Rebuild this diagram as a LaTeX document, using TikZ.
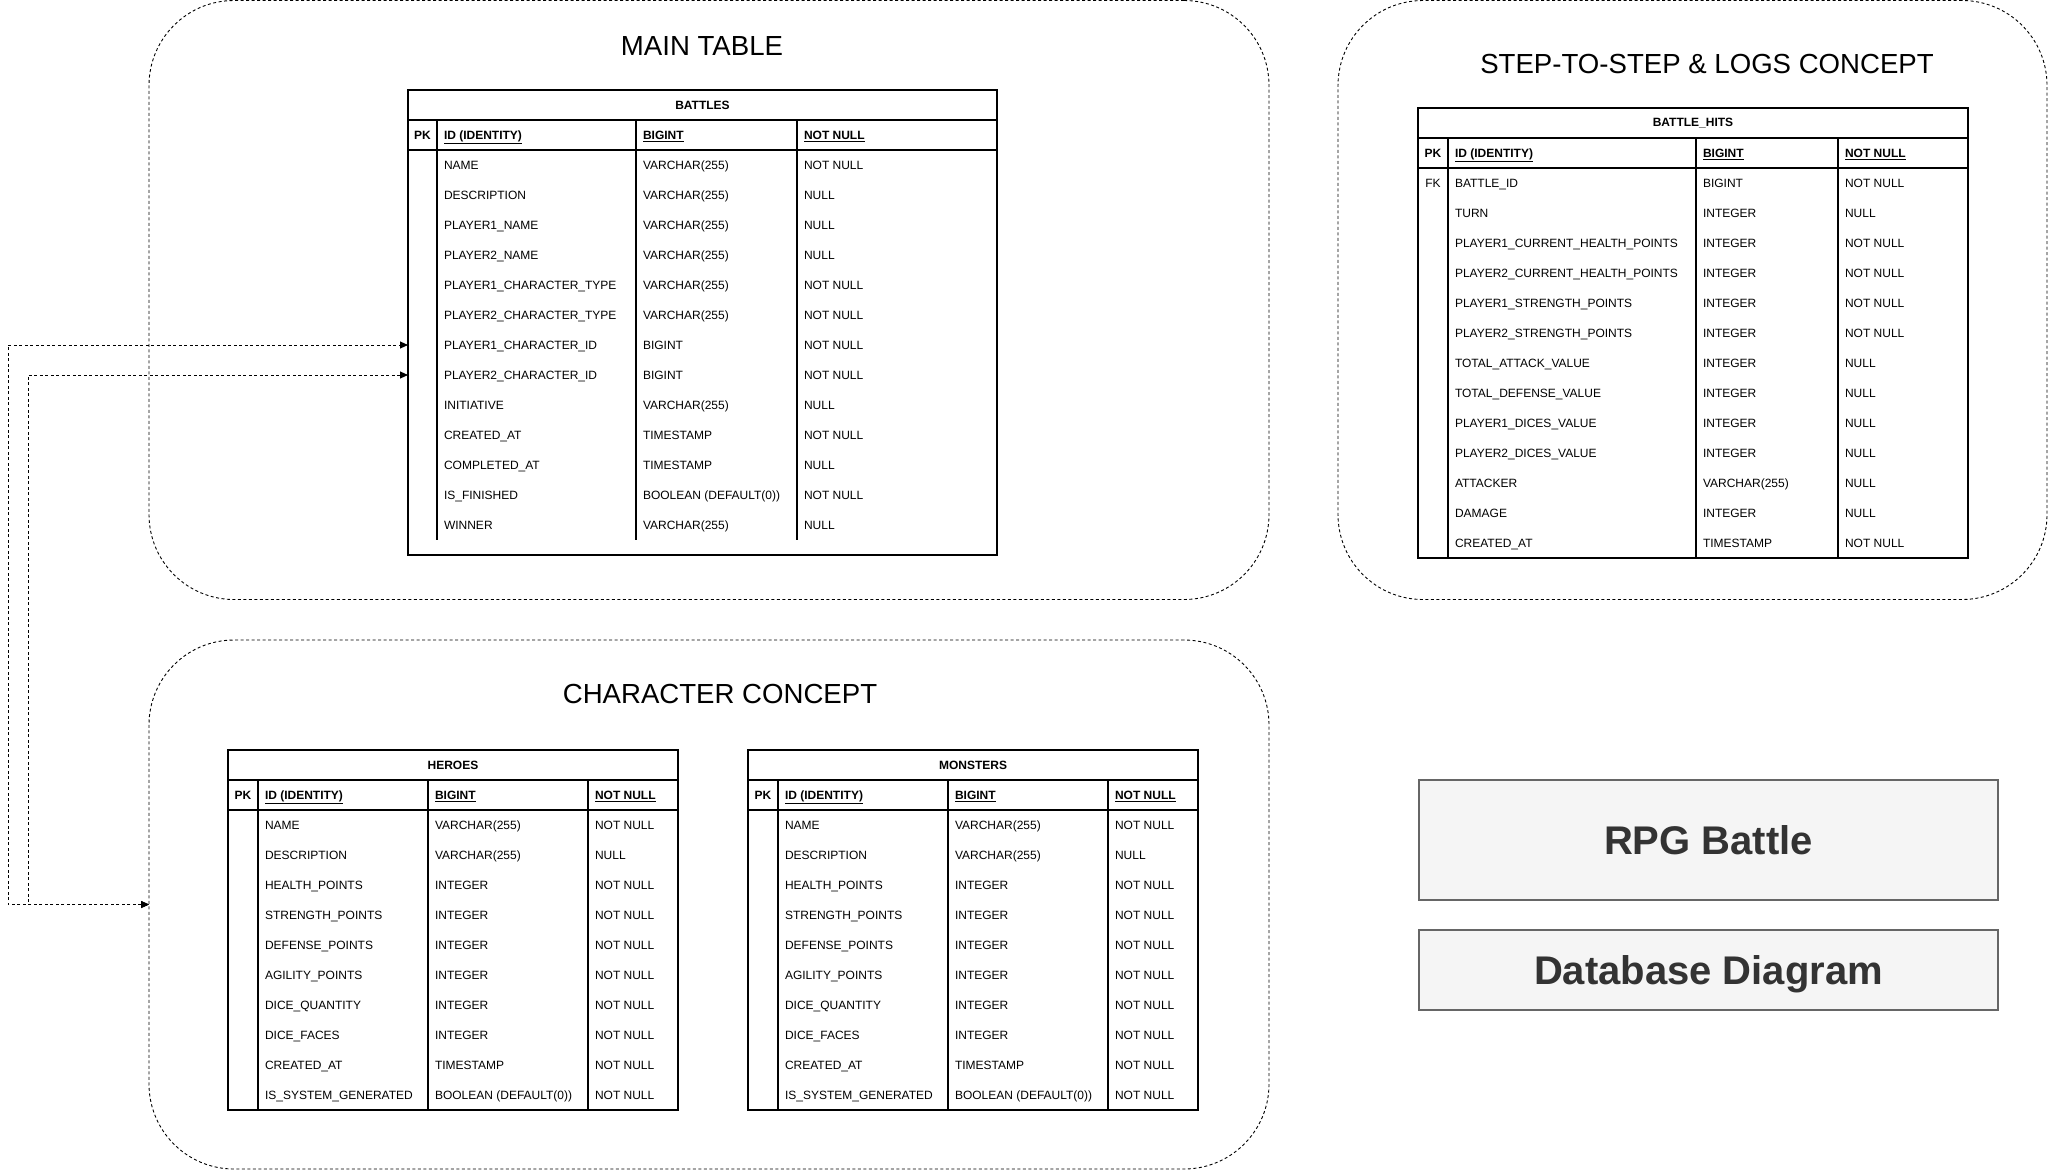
\documentclass[tikz,border=0pt]{standalone}
\usepackage{fontspec}
\setmainfont{Liberation Sans} %szerokości jak Arial
\usetikzlibrary{arrows.meta}
\tikzset{
	rowtext/.style={anchor=base west, font=\fontsize{12}{14}\selectfont}, %tekst w wierszu tabeli
	keytext/.style={anchor=base, font=\fontsize{12}{14}\selectfont\bfseries}, %kolumna PK/FK
}

\begin{document}
\begin{tikzpicture}[
			x=1pt, y=-1pt,
			every node/.style={inner sep=0pt, outer sep=0pt},
			group/.style={draw, line width=0.9pt, dash pattern=on 3pt off 2.5pt, rounded corners=85pt, anchor=north west},
			grouptitle/.style={font=\fontsize{27.6}{32}\selectfont},
			tbl/.style={draw, line width=1.1pt, anchor=north west},
			sep/.style={line width=1.1pt},
			headtext/.style={font=\fontsize{12}{14}\selectfont\bfseries},
			banner/.style={draw=black!60, fill=black!4, line width=1.1pt, anchor=north west, text=black!80, text height=29pt, text depth=0pt, font=\fontsize{40}{46}\selectfont\bfseries},
			link/.style={line width=0.9pt, dash pattern=on 3pt off 2.5pt, {Triangle[length=8pt,width=7pt]}-{Triangle[length=8pt,width=7pt]}}
			]
			\useasboundingbox (0,0) rectangle (2049,1171);
			
			\node[group, minimum width=1120pt, minimum height=599pt] (maingrp) at (149,0.5) {};
			\node[group, minimum width=709pt, minimum height=599pt] (hitsgrp) at (1338,0.5) {};
			\node[group, minimum width=1120pt, minimum height=529pt] (chargrp) at (149,640) {};
			\node[grouptitle] (maintitle) at (702,46) {MAIN TABLE};
			\node[grouptitle] (hitstitle) at (1707,64) {STEP-TO-STEP \& LOGS CONCEPT};
			\node[grouptitle] (chartitle) at (720,694) {CHARACTER CONCEPT};
			
			% BATTLES
			\node[tbl, minimum width=589pt, minimum height=465pt] (battles) at (408,90) {};
			\node[headtext] (battles-head) at (702.5,105) {BATTLES};
			\draw[sep] (408,120) -- (997,120);
			\draw[sep] (408,150) -- (997,150);
			\foreach \cx in {437,636,797} \draw[sep] (\cx,120) -- (\cx,540);
			\node[keytext] (battles-pk) at (422.5,139.3) {PK};
			\node[rowtext, font=\fontsize{12}{14}\selectfont\bfseries] (battles-id) at (444,139.3) {\underline{ID (IDENTITY)}};
			\node[rowtext, font=\fontsize{12}{14}\selectfont\bfseries] (battles-idt) at (643,139.3) {\underline{BIGINT}};
			\node[rowtext, font=\fontsize{12}{14}\selectfont\bfseries] (battles-idu) at (804,139.3) {\underline{NOT NULL}};
			\foreach \n/\t/\u [count=\i] in {NAME/VARCHAR(255)/NOT NULL, DESCRIPTION/VARCHAR(255)/NULL,
				PLAYER1\_NAME/VARCHAR(255)/NULL, PLAYER2\_NAME/VARCHAR(255)/NULL,
				PLAYER1\_CHARACTER\_TYPE/VARCHAR(255)/NOT NULL, PLAYER2\_CHARACTER\_TYPE/VARCHAR(255)/NOT NULL,
				PLAYER1\_CHARACTER\_ID/BIGINT/NOT NULL, PLAYER2\_CHARACTER\_ID/BIGINT/NOT NULL,
				INITIATIVE/VARCHAR(255)/NULL, CREATED\_AT/TIMESTAMP/NOT NULL, COMPLETED\_AT/TIMESTAMP/NULL,
				IS\_FINISHED/BOOLEAN (DEFAULT(0))/NOT NULL, WINNER/VARCHAR(255)/NULL} {
				\coordinate (battles-r\i) at (408,135+30*\i);
				\node[rowtext] (battles-\i) at (444,139.3+30*\i) {\n};
				\node[rowtext] (battles-t\i) at (643,139.3+30*\i) {\t};
				\node[rowtext] (battles-u\i) at (804,139.3+30*\i) {\u};
			}
			
			% BATTLE_HITS
			\node[tbl, minimum width=550pt, minimum height=450pt] (hits) at (1418,108) {};
			\node[headtext] (hits-head) at (1693,123) {BATTLE\_HITS};
			\draw[sep] (1418,138) -- (1968,138);
			\draw[sep] (1418,168) -- (1968,168);
			\foreach \cx in {1448,1696,1838} \draw[sep] (\cx,138) -- (\cx,558);
			\node[keytext] (hits-pk) at (1433,157.3) {PK};
			\node[rowtext, font=\fontsize{12}{14}\selectfont\bfseries] (hits-id) at (1455,157.3) {\underline{ID (IDENTITY)}};
			\node[rowtext, font=\fontsize{12}{14}\selectfont\bfseries] (hits-idt) at (1703,157.3) {\underline{BIGINT}};
			\node[rowtext, font=\fontsize{12}{14}\selectfont\bfseries] (hits-idu) at (1845,157.3) {\underline{NOT NULL}};
			\node[keytext, font=\fontsize{12}{14}\selectfont] (hits-fk) at (1433,187.3) {FK};
			\foreach \n/\t/\u [count=\i] in {BATTLE\_ID/BIGINT/NOT NULL, TURN/INTEGER/NULL,
				PLAYER1\_CURRENT\_HEALTH\_POINTS/INTEGER/NOT NULL, PLAYER2\_CURRENT\_HEALTH\_POINTS/INTEGER/NOT NULL,
				PLAYER1\_STRENGTH\_POINTS/INTEGER/NOT NULL, PLAYER2\_STRENGTH\_POINTS/INTEGER/NOT NULL,
				TOTAL\_ATTACK\_VALUE/INTEGER/NULL, TOTAL\_DEFENSE\_VALUE/INTEGER/NULL,
				PLAYER1\_DICES\_VALUE/INTEGER/NULL, PLAYER2\_DICES\_VALUE/INTEGER/NULL,
				ATTACKER/VARCHAR(255)/NULL, DAMAGE/INTEGER/NULL, CREATED\_AT/TIMESTAMP/NOT NULL} {
				\node[rowtext] (hits-\i) at (1455,157.3+30*\i) {\n};
				\node[rowtext] (hits-t\i) at (1703,157.3+30*\i) {\t};
				\node[rowtext] (hits-u\i) at (1845,157.3+30*\i) {\u};
			}
			
			% HEROES i MONSTERS
			\foreach \tb/\label/\xa in {heroes/HEROES/228, monsters/MONSTERS/748} {
				\node[tbl, minimum width=450pt, minimum height=360pt] (\tb) at (\xa,750) {};
				\node[headtext] (\tb-head) at (\xa+225,765) {\label};
				\draw[sep] (\xa,780) -- (\xa+450,780);
				\draw[sep] (\xa,810) -- (\xa+450,810);
				\foreach \cx in {30,200,360} \draw[sep] (\xa+\cx,780) -- (\xa+\cx,1110);
				\node[keytext] (\tb-pk) at (\xa+15,799.3) {PK};
				\node[rowtext, font=\fontsize{12}{14}\selectfont\bfseries] (\tb-id) at (\xa+37,799.3) {\underline{ID (IDENTITY)}};
				\node[rowtext, font=\fontsize{12}{14}\selectfont\bfseries] (\tb-idt) at (\xa+207,799.3) {\underline{BIGINT}};
				\node[rowtext, font=\fontsize{12}{14}\selectfont\bfseries] (\tb-idu) at (\xa+367,799.3) {\underline{NOT NULL}};
				\foreach \n/\t/\u [count=\i] in {NAME/VARCHAR(255)/NOT NULL, DESCRIPTION/VARCHAR(255)/NULL,
					HEALTH\_POINTS/INTEGER/NOT NULL, STRENGTH\_POINTS/INTEGER/NOT NULL,
					DEFENSE\_POINTS/INTEGER/NOT NULL, AGILITY\_POINTS/INTEGER/NOT NULL,
					DICE\_QUANTITY/INTEGER/NOT NULL, DICE\_FACES/INTEGER/NOT NULL,
					CREATED\_AT/TIMESTAMP/NOT NULL, IS\_SYSTEM\_GENERATED/BOOLEAN (DEFAULT(0))/NOT NULL} {
					\node[rowtext] (\tb-\i) at (\xa+37,799.3+30*\i) {\n};
					\node[rowtext] (\tb-t\i) at (\xa+207,799.3+30*\i) {\t};
					\node[rowtext] (\tb-u\i) at (\xa+367,799.3+30*\i) {\u};
				}
			}
			
			\node[banner, minimum width=579pt, minimum height=120pt] (rpgtitle) at (1419,780) {RPG Battle};
			\node[banner, minimum width=579pt, minimum height=80pt] (dbtitle) at (1419,930) {Database Diagram};
			
			\draw[link] (chargrp.west) -- ++(-141,0) |- (battles-r7);
			\draw[link] (chargrp.west) -- ++(-121,0) |- (battles-r8);
		\end{tikzpicture}
\end{document}
